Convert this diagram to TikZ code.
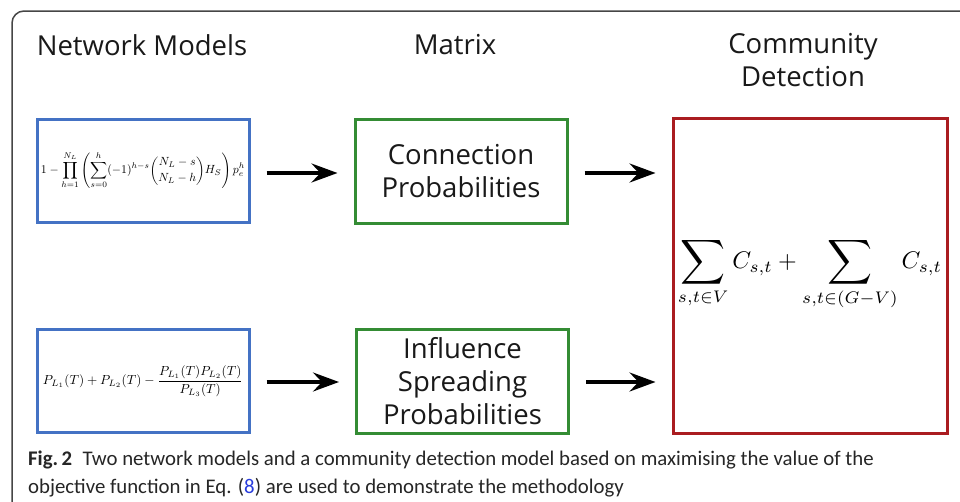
\documentclass[tikz,border=0pt]{standalone}
\usepackage{amsmath}
\usepackage{graphicx}
\usepackage{fontspec}
\setmainfont{Open Sans}
\newfontfamily\capfont{Carlito}
\usetikzlibrary{arrows.meta}
\definecolor{bblue}{RGB}{68,114,196}
\definecolor{bgreen}{RGB}{52,140,52}
\definecolor{bred}{RGB}{170,28,32}
\definecolor{framegray}{RGB}{70,70,70}
\definecolor{linkblue}{RGB}{40,60,220}
\newcommand{\bigsumop}{\mathop{\vcenter{\hbox{\scalebox{1.3}{$\displaystyle\sum$}}}}\limits}
\tikzset{
  heading/.style={font=\fontsize{27.5}{33}\selectfont, align=center, text=black!90, inner sep=0pt},
  box/.style={draw, line width=3pt, inner sep=0pt},
  bluebox/.style={box, draw=bblue, minimum width=212pt, minimum height=103pt},
  greenbox/.style={box, draw=bgreen, minimum width=212pt, minimum height=104pt, align=center, text=black!90, font=\fontsize{27.5}{33}\selectfont},
  redbox/.style={box, draw=bred, minimum width=274pt, minimum height=315pt},
  flow/.style={line width=3.5pt, -{Stealth[length=26pt,width=19pt,inset=9pt]}, shorten <=16pt, shorten >=16pt},
  captext/.style={anchor=base west, inner sep=0pt, font=\capfont\fontsize{20.8}{28}\selectfont, text=black!85},
}
\begin{document}
\begin{tikzpicture}[x=1pt,y=-1pt]
\useasboundingbox (0,0) rectangle (960,501);
\fill[white] (0,0) rectangle (960,501);
\draw[framegray, line width=1.5pt, rounded corners=12pt] (12,520) -- (12,11) -- (980,11);

\node[heading] (t1) at (142,45) {Network Models};
\node[heading] (t2) at (455,45) {Matrix};
\node[heading] (t3) at (803,60) {Community\\Detection};

\node[bluebox] (b1) at (143,170.5) {\resizebox{204pt}{!}{$\displaystyle 1-\prod_{h=1}^{N_L}\left(\sum_{s=0}^{h}(-1)^{h-s}\binom{N_L-s}{N_L-h}H_S\right)p_e^h$}};
\node[bluebox] (b2) at (143,381) {\resizebox{200pt}{!}{$\displaystyle P_{L_1}(T)+P_{L_2}(T)-\frac{P_{L_1}(T)P_{L_2}(T)}{P_{L_3}(T)}$}};

\node[greenbox] (g1) at (461,171) {Connection\\Probabilities};
\node[greenbox] (g2) at (462.5,381.5) {Influence\\Spreading\\Probabilities};

\node[redbox] (r) at (810,275.5) {};
\node (f) at (810,274) {\resizebox{264pt}{!}{$\displaystyle \bigsumop_{s,t\in V} C_{s,t}+\bigsumop_{s,t\in(G-V)} C_{s,t}$}};

\draw[flow] (b1.east |- 0,173) -- (g1.west |- 0,173);
\draw[flow] (g1.east |- 0,173) -- (r.west |- 0,173);
\draw[flow] (b2.east |- 0,382) -- (g2.west |- 0,382);
\draw[flow] (g2.east |- 0,382) -- (r.west |- 0,382);

\node[captext] (cap1) at (28,465) {\textbf{Fig.\,2}\enspace Two network models and a community detection model based on maximising the value of the};
\node[captext] (cap2) at (28,493) {objective function in Eq. (\textcolor{linkblue}{8}) are used to demonstrate the methodology};
\end{tikzpicture}
\end{document}
